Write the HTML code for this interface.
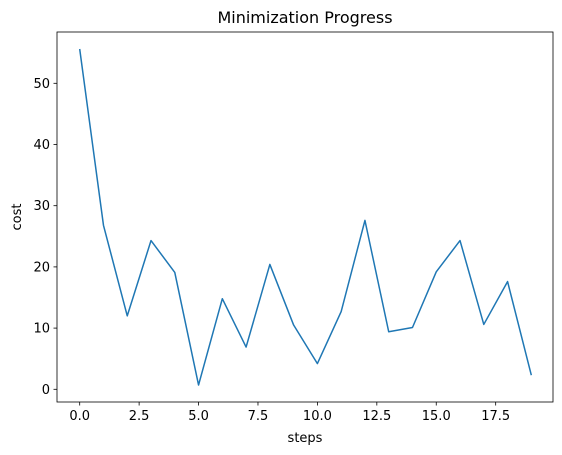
<!DOCTYPE html>
<html><head><meta charset="utf-8"><style>
html,body{margin:0;padding:0;background:#fff;}
svg{display:block;font-family:"DejaVu Sans","Liberation Sans",sans-serif;}
</style></head><body>
<svg id="chart" width="562" height="455" xmlns="http://www.w3.org/2000/svg">
<text x="305" y="23" text-anchor="middle" font-size="16">Minimization Progress</text>
<g id="axes"></g>
<text x="305" y="442" text-anchor="middle" font-size="13">steps</text>
<text transform="translate(21,217) rotate(-90)" text-anchor="middle" font-size="13">cost</text>
</svg>
<script>
const steps=[0,1,2,3,4,5,6,7,8,9,10,11,12,13,14,15,16,17,18,19];
const cost=[55.6,26.8,12.0,24.3,19.1,0.7,14.8,6.9,20.4,10.5,4.2,12.7,27.6,9.4,10.1,19.2,24.3,10.6,17.6,2.3];
const xTicks=[0,2.5,5,7.5,10,12.5,15,17.5];
const xTickLabels=["0.0","2.5","5.0","7.5","10.0","12.5","15.0","17.5"];
const yTicks=[0,10,20,30,40,50];
const yTickLabels=["0","10","20","30","40","50"];
const L=57,R=553,T=32,B=402;
const xs=v=>79.7+v*23.77;
const ys=v=>389.3-v*6.12;
const ns="http://www.w3.org/2000/svg";
const g=document.getElementById('axes');
function mk(t,a){const e=document.createElementNS(ns,t);for(const k in a)e.setAttribute(k,a[k]);g.appendChild(e);return e;}
const frame=mk('rect',{x:L,y:T,width:R-L,height:B-T,fill:'none',stroke:'#000','stroke-width':0.8});


xTicks.forEach((v,i)=>{const x=xs(v);
 const l=mk('line',{x1:x,x2:x,y1:B,y2:B+3.5,stroke:'#000','stroke-width':0.8});
 
 
 const t=mk('text',{x:x,y:B+18,'text-anchor':'middle','font-size':13});t.textContent=xTickLabels[i];
 
 });
yTicks.forEach((v,i)=>{const y=ys(v);
 const l=mk('line',{x1:L-3.5,x2:L,y1:y,y2:y,stroke:'#000','stroke-width':0.8});
 
 
 const t=mk('text',{x:L-7,y:y+4.5,'text-anchor':'end','font-size':13});t.textContent=yTickLabels[i];
 
 });
const p=mk('polyline',{points:steps.map((s,i)=>xs(s)+','+ys(cost[i])).join(' '),fill:'none',stroke:'#1f77b4','stroke-width':1.5,'stroke-linejoin':'round'});


</script>
</body></html>
